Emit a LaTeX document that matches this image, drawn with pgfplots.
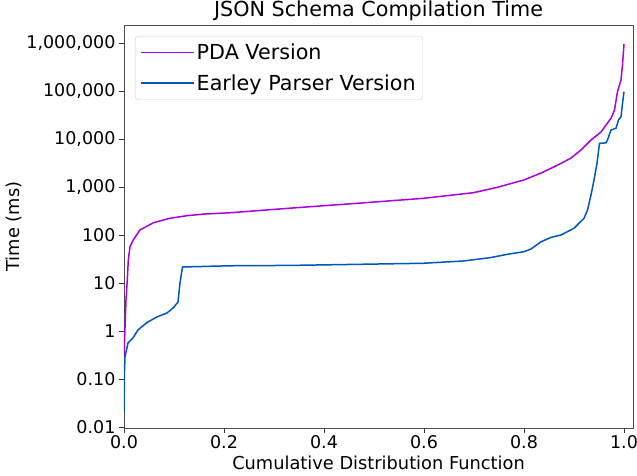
\documentclass[border=0pt]{standalone}
\usepackage{pgfplots}
\pgfplotsset{compat=1.18}
\usepackage{fontspec}
\setmainfont{DejaVu Sans}
\definecolor{pda}{RGB}{170,0,225}
\definecolor{earley}{RGB}{0,85,190}
\begin{document}
\begin{tikzpicture}[x=1pt,y=1pt]
\path[use as bounding box] (-124,-48) rectangle (513,428);
\begin{axis}[
  at={(0,0)}, anchor=south west,
  scale only axis, width=509pt, height=403pt,
  xmin=0, xmax=1.018,
  ymode=log, log basis y=10,
  ymin=0.0095, ymax=2.37e6,
  /pgf/number format/assume math mode=true,
  xtick={0,0.2,0.4,0.6,0.8,1.0},
  xticklabels={0.0,0.2,0.4,0.6,0.8,1.0},
  ytick={0.01,0.1,1,10,100,1000,10000,100000,1000000},
  yticklabels={0.01,0.10,1,10,100,{1,000},{10,000},{100,000},{1,000,000}},
  yminorticks=false,
  tick align=outside, tick pos=left,
  major tick length=5pt,
  every tick/.style={black!80, line width=0.8pt},
  axis line style={black!70, line width=0.8pt},
  tick label style={font=\fontsize{17.5}{20}\selectfont},
  xticklabel style={yshift=1pt},
  title={JSON Schema Compilation Time},
  title style={font=\fontsize{20.7}{24}\selectfont, yshift=-5pt},
  xlabel={Cumulative Distribution Function},
  ylabel={Time (ms)},
  label style={font=\fontsize{17.8}{21}\selectfont},
  xlabel style={yshift=0pt},
  ylabel style={yshift=-2pt},
  legend style={at={(0.0216,0.973)}, anchor=north west,
    font=\fontsize{20.7}{24}\selectfont, draw=black!20, rounded corners=3pt,
    inner xsep=5pt, inner ysep=6pt, row sep=9pt},
  legend cell align=left,
  legend image code/.code={\draw[#1] (0pt,0pt) -- (43pt,0pt); \path (0pt,0pt) -- (53pt,0pt);},
]
\addplot[pda, line width=1.5pt] coordinates {
(0.000,0.3) (0.001,0.6) (0.004,4.4) (0.0066,11.6) (0.0086,30) (0.012,57) (0.0186,79)
(0.032,127) (0.059,180) (0.092,223) (0.126,252) (0.159,272) (0.212,290)
(0.333,362) (0.467,457) (0.599,580) (0.699,760) (0.747,985) (0.8,1400)
(0.834,1950) (0.854,2450) (0.874,3100) (0.894,4000) (0.914,5900) (0.934,9500)
(0.954,14000) (0.974,27000) (0.981,40000) (0.987,97000) (0.994,170000) (0.997,350000) (1.0,950000)
};
\addlegendentry{PDA Version}
\addplot[earley, line width=1.5pt] coordinates {
(0.000,0.02) (0.001,0.15) (0.002,0.29) (0.008,0.56) (0.018,0.72) (0.028,1.05)
(0.046,1.5) (0.066,1.96) (0.086,2.37) (0.098,3.0) (0.108,4.0) (0.112,10)
(0.117,21.5) (0.212,22.8) (0.333,23.2) (0.599,25.7) (0.679,28.7) (0.733,33.7)
(0.767,39.6) (0.8,44.8) (0.814,51) (0.834,72) (0.854,89) (0.874,100) (0.9,138)
(0.92,222) (0.927,330) (0.934,680) (0.94,1400) (0.946,3100) (0.951,8100)
(0.964,8300) (0.967,9500) (0.974,15400) (0.984,16700) (0.989,25000) (0.994,29000)
(0.997,55000) (1.0,97000)
};
\addlegendentry{Earley Parser Version}
\end{axis}
\end{tikzpicture}
\end{document}
